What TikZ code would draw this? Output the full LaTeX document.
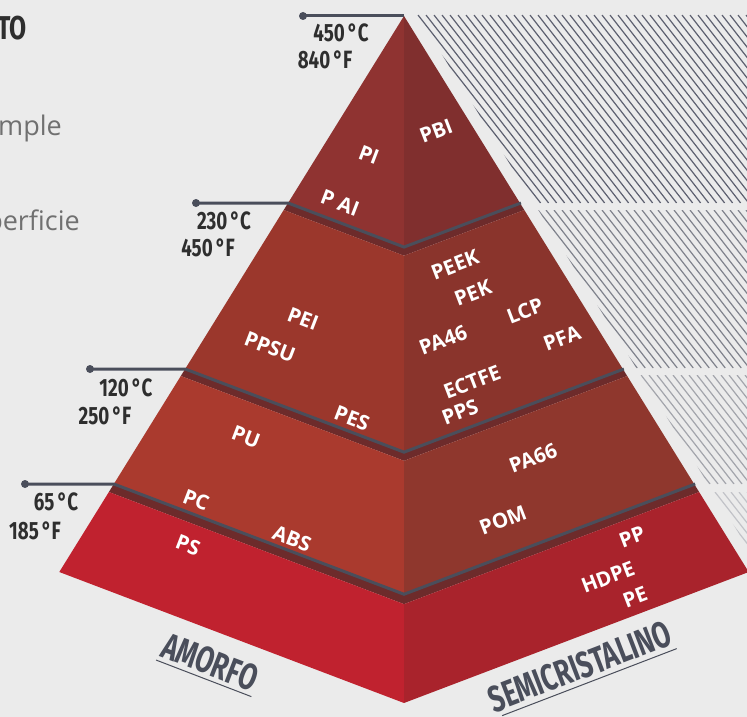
\documentclass[tikz,border=0pt]{standalone}
\usepackage{fontspec}
\newfontfamily\lblfont{Open Sans}
\newfontfamily\condfont{Fira Sans}
\newfontfamily\greyfont{Open Sans}
\definecolor{bgc}{HTML}{EBEBEB}
\definecolor{t1l}{HTML}{8F3331}
\definecolor{t1r}{HTML}{802F2E}
\definecolor{t2l}{HTML}{9B372C}
\definecolor{t2r}{HTML}{8A342C}
\definecolor{t3l}{HTML}{AA3A2E}
\definecolor{t3r}{HTML}{8F372D}
\definecolor{t4l}{HTML}{C0222F}
\definecolor{t4r}{HTML}{A9232C}
\definecolor{shad}{HTML}{6D2B2B}
\definecolor{slate}{HTML}{4A4E5B}
\definecolor{tempc}{HTML}{2E2E2E}
\definecolor{greyt}{HTML}{707070}
\definecolor{hatchA}{HTML}{5D6070}
\definecolor{hatchB}{HTML}{7F828C}
\definecolor{hatchC}{HTML}{A3A5AC}
\definecolor{hatchD}{HTML}{C2C3C8}
\newcommand\xlft[1]{404-0.62*(#1-16)}
\newcommand\xrgt[1]{404+0.62*(#1-16)}
\newcommand\ymid[1]{#1+0.2356*(#1-16)}
\newcommand\tierfaces[4]{%
 \fill[#3] ({\xlft{#1}},#1) -- (404,{\ymid{#1}}) -- (404,{\ymid{#2}}) -- ({\xlft{#2}},#2) -- cycle;
 \fill[#4] ({\xrgt{#1}},#1) -- (404,{\ymid{#1}}) -- (404,{\ymid{#2}}) -- ({\xrgt{#2}},#2) -- cycle;}
\newcommand\tierline[3]{%
 \coordinate (dot#3) at (#1,#2);
 \coordinate (cl#3) at ({\xlft{#2}},#2);
 \coordinate (cm#3) at (404,{\ymid{#2}});
 \coordinate (cr#3) at ({\xrgt{#2}+1},#2);
 \draw[leader] (dot#3) -- (cl#3) -- (cm#3) -- (cr#3);
 \fill[slate] (dot#3) circle[radius=4pt];}
\newcommand\hatchband[4]{%
 \begin{scope}
 \clip ({\xrgt{#1}+14},#1) -- ({\xrgt{#2}+14},#2) -- (760,#2) -- (760,#1) -- cycle;
 \foreach \k in {-40,...,50} \draw[#4, line width=1.2pt] ({#3+8*\k},#1) -- ++({0.78*(#2-#1)},{#2-#1});
 \end{scope}}
\tikzset{
 leader/.style={slate, line width=3pt, line join=miter},
 lbl/.style={text=white, font=\lblfont\bfseries\fontsize{20.5}{20.5}\selectfont, inner sep=0pt},
 lblL/.style={lbl, rotate=-21},
 lblR/.style={lbl, rotate=21},
 temp/.style={text=tempc, font=\condfont\bfseries\fontsize{25}{25}\selectfont, inner sep=0pt},
 axislbl/.style={text=slate, font=\condfont\bfseries\fontsize{37}{37}\selectfont, inner sep=0pt, transform shape},
}
\begin{document}
\begin{tikzpicture}[x=1pt,y=-1pt]
\useasboundingbox (0,0) rectangle (747,717);
\clip (0,0) rectangle (747,717);
\fill[bgc] (0,0) rectangle (747,717);
% hatching
\hatchband{15}{203}{418}{hatchA}
\hatchband{210}{368}{538}{hatchB}
\hatchband{375}{484}{641}{hatchC}
\hatchband{492}{572}{715}{hatchD}
% tiers
\tierfaces{16}{203}{t1l}{t1r}
\tierfaces{203}{210}{shad}{shad}
\tierfaces{210}{369}{t2l}{t2r}
\tierfaces{369}{376}{shad}{shad}
\tierfaces{376}{484}{t3l}{t3r}
\tierfaces{484}{492}{shad}{shad}
\tierfaces{492}{572}{t4l}{t4r}
% leader lines
\coordinate (dot0) at (303,16);
\coordinate (apex) at (404,16);
\draw[leader] (dot0) -- (apex);
\fill[slate] (dot0) circle[radius=4pt];
\tierline{196}{203}{1}
\tierline{90}{369}{2}
\tierline{25}{484}{3}
% temperatures
\node[temp] (c450) at (341,33) {\scalebox{0.75}[1]{450\,°C}};
\node[temp] (f840) at (325,60) {\scalebox{0.75}[1]{840\,°F}};
\node[temp] (c230) at (224,221) {\scalebox{0.75}[1]{230\,°C}};
\node[temp] (f450) at (208,248) {\scalebox{0.75}[1]{450\,°F}};
\node[temp] (c120) at (126,388) {\scalebox{0.75}[1]{120\,°C}};
\node[temp] (f250) at (105,416) {\scalebox{0.75}[1]{250\,°F}};
\node[temp] (c65) at (56,502) {\scalebox{0.75}[1]{65\,°C}};
\node[temp] (f185) at (35,531) {\scalebox{0.75}[1]{185\,°F}};
% polymer labels
\node[lblL] (pi) at (369,155) {PI};
\node[lblL] (pai) at (340,203) {P AI};
\node[lblR] (pbi) at (436,131) {PBI};
\node[lblR] (peek) at (455,265) {PEEK};
\node[lblR] (pek) at (473,293) {PEK};
\node[lblR] (lcp) at (525,311) {LCP};
\node[lblR] (pfa) at (562,338) {PFA};
\node[lblR] (pa46) at (443,340) {PA46};
\node[lblL] (pei) at (303,319) {PEI};
\node[lblL] (ppsu) at (270,347) {PPSU};
\node[lblR] (ectfe) at (472,382) {ECTFE};
\node[lblR] (pps) at (460,412) {PPS};
\node[lblL] (pes) at (352,418) {PES};
\node[lblL] (pu) at (246,437) {PU};
\node[lblR] (pa66) at (533,458) {PA66};
\node[lblR] (pom) at (503,520) {POM};
\node[lblL] (pc) at (196,500) {PC};
\node[lblL] (abs) at (292,539) {ABS};
\node[lblL] (ps) at (188,545) {PS};
\node[lblR] (pp) at (632,537) {PP};
\node[lblR] (hdpe) at (608,577) {HDPE};
\node[lblR] (pe) at (635,597) {PE};
% axis labels
\begin{scope}[shift={(210,662)}, rotate=-21]
 \node[axislbl] (amorfo) at (0,0) {\scalebox{0.7}[1]{AMORFO}};
 \coordinate (ua) at (-51,17.5);
 \coordinate (ub) at (51,17.5);
 \draw[slate, line width=1pt] (ua) -- (ub);
\end{scope}
\begin{scope}[shift={(576,668)}, rotate=21]
 \node[axislbl] (semi) at (4,0) {\scalebox{0.7}[1]{SEMICRISTALINO}};
 \coordinate (sa) at (-86,18)
 ;
 \coordinate (sb) at (101,18);
 \draw[slate, line width=1pt] (sa) -- (sb);
\end{scope}
% cut-off texts at left
\node[anchor=base east, inner sep=0pt, text=tempc, font=\condfont\bfseries\fontsize{33}{33}\selectfont] (tto) at (27,40) {\scalebox{0.75}[1]{TO}};
\node[anchor=base east, inner sep=0pt, text=greyt, font=\greyfont\fontsize{27}{27}\selectfont] (tmple) at (62,135) {mple};
\node[anchor=base east, inner sep=0pt, text=greyt, font=\greyfont\fontsize{27}{27}\selectfont] (tperf) at (80,230) {perficie};
\end{tikzpicture}
\end{document}
